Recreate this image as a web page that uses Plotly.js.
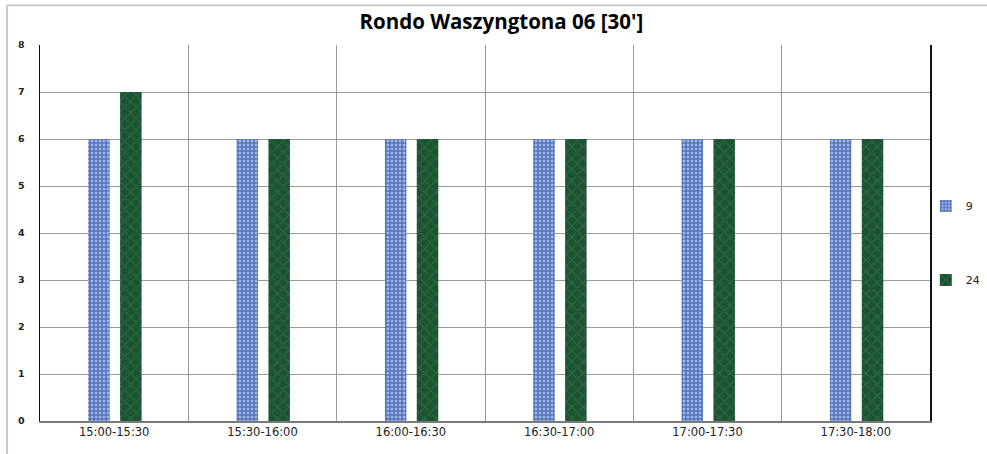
<!DOCTYPE html>
<html>
<head>
<meta charset="utf-8">
<script src="https://cdn.plot.ly/plotly-3.0.1.min.js"></script>
<style>html,body{margin:0;padding:0;background:#fff;}#chart{width:987px;height:454px;}</style>
</head>
<body>
<div id="chart"></div>
<script>
const categories = ["15:00-15:30", "15:30-16:00", "16:00-16:30", "16:30-17:00", "17:00-17:30", "17:30-18:00"];
const seriesNames = ["9", "24"];
const series9 = [6, 6, 6, 6, 6, 6];
const series24 = [7, 6, 6, 6, 6, 6];
const yTicks = [0, 1, 2, 3, 4, 5, 6, 7, 8];

const traces = [
  {
    type: "bar", name: seriesNames[0], x: categories, y: series9,
    width: 0.145, offset: -0.175, legendgroup: "a",
    marker: {
      color: "#7a98d8",
      line: {width: 0},
      pattern: {shape: "+", fgcolor: "#3d5ea8", bgcolor: "#9cb4e8", size: 4, solidity: 0.45, fillmode: "replace"}
    },
    hoverinfo: "x+y"
  },
  {
    type: "bar", name: seriesNames[1], x: categories, y: series24,
    width: 0.145, offset: 0.04, legendgroup: "b",
    marker: {
      color: "#1f5c37",
      line: {width: 0},
      pattern: {shape: "x", fgcolor: "#2a6c43", bgcolor: "#1d5332", size: 8, solidity: 0.25, fillmode: "replace"}
    },
    hoverinfo: "x+y"
  }
];

const layout = {
  width: 987, height: 454,
  paper_bgcolor: "#ffffff", plot_bgcolor: "#ffffff",
  margin: {l: 40, r: 57, t: 45, b: 33, pad: 0, autoexpand: false},
  barmode: "overlay",
  title: {
    text: "Rondo Waszyngtona 06 [30']",
    font: {family: "Open Sans, Liberation Sans, sans-serif", size: 20.5, color: "#000", weight: "bold"},
    x: 0.508, xref: "container", xanchor: "center",
    y: 0.952, yref: "container", yanchor: "middle"
  },
  xaxis: {
    type: "category",
    tickson: "boundaries",
    showgrid: true, gridcolor: "#9a9a9a", gridwidth: 1,
    showline: true, linecolor: "#7a7a7a", linewidth: 1.5,
    ticks: "", ticklen: 0,
    tickfont: {family: "DejaVu Sans, Verdana, sans-serif", size: 11.5, color: "#222"},
    zeroline: false, fixedrange: true, automargin: false
  },
  yaxis: {
    range: [0, 8],
    tickvals: yTicks,
    ticktext: yTicks.map(String),
    showgrid: true, gridcolor: "#9a9a9a", gridwidth: 1,
    showline: true, mirror: true, linecolor: "#111", linewidth: 1.5,
    zeroline: false,
    ticks: "", ticklabelstandoff: 12,
    tickfont: {family: "DejaVu Sans, Verdana, sans-serif", size: 9.5, color: "#222", weight: "bold"},
    fixedrange: true, automargin: false
  },
  showlegend: true,
  legend: {
    xref: "container", yref: "container",
    x: 0.938, xanchor: "left", y: 0.465, yanchor: "middle",
    font: {family: "DejaVu Sans, Verdana, sans-serif", size: 11, color: "#222"},
    tracegroupgap: 55, itemwidth: 30,
    bgcolor: "rgba(0,0,0,0)", borderwidth: 0,
    traceorder: "grouped"
  },
  shapes: [
    {type: "line", xref: "paper", yref: "paper", x0: -0.037, x1: 1.07, y0: 1.106, y1: 1.106, line: {color: "#c8c8c8", width: 2}, layer: "below"},
    {type: "line", xref: "paper", yref: "paper", x0: -0.037, x1: -0.037, y0: 1.106, y1: -0.09, line: {color: "#c8c8c8", width: 2}, layer: "below"}
  ]
};

Plotly.newPlot("chart", traces, layout, {displayModeBar: false, staticPlot: true});
</script>
</body>
</html>
